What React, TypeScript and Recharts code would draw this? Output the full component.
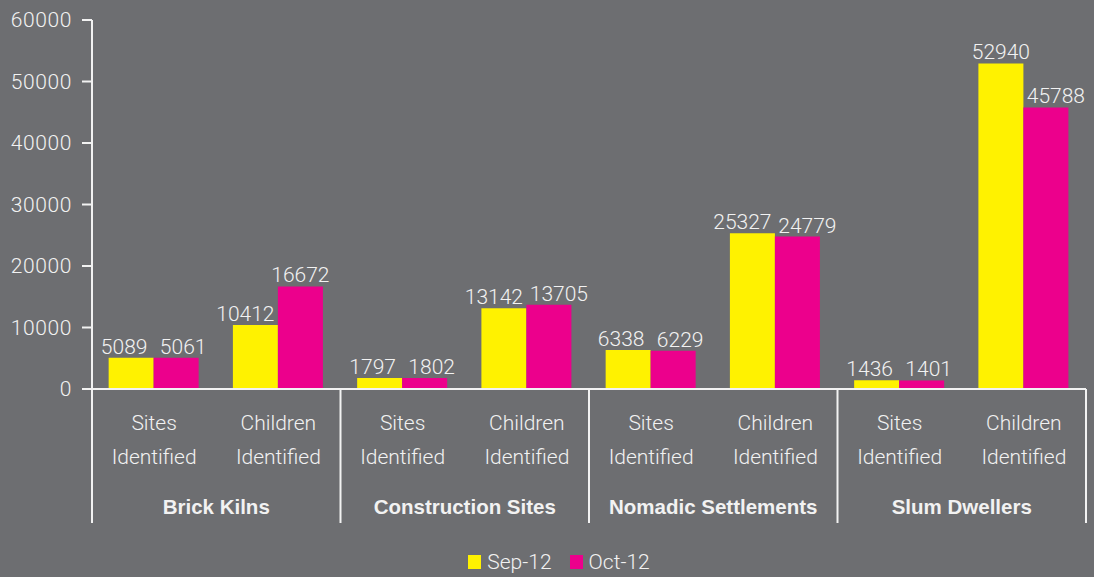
import React from "react";
import { BarChart, Bar, XAxis, YAxis, Legend, LabelList } from "recharts";

const groups = ["Brick Kilns", "Construction Sites", "Nomadic Settlements", "Slum Dwellers"];
const subLabels = [["Sites", "Identified"], ["Children", "Identified"]];
const sep12 = [5089, 10412, 1797, 13142, 6338, 25327, 1436, 52940];
const oct12 = [5061, 16672, 1802, 13705, 6229, 24779, 1401, 45788];
const yTicks = [0, 10000, 20000, 30000, 40000, 50000, 60000];
const seriesNames = ["Sep-12", "Oct-12"];

const data = sep12.map((v, i) => ({
  key: `${groups[Math.floor(i / 2)]}|${i % 2}`,
  group: groups[Math.floor(i / 2)],
  sub: i % 2,
  sep: v,
  oct: oct12[i],
}));

const W = 1094;
const H = 577;
const BG = "#6d6e71";
const YELLOW = "#fff200";
const MAGENTA = "#ec008c";
const TXT = "#f2f2f2";
const FONT = "Roboto, 'Liberation Sans', sans-serif";
const BOLD_FONT = "'Liberation Sans', Arial, sans-serif";
const FS = 21;
const PLOT_LEFT = 92;
const PLOT_RIGHT = 1086;
const AXIS_Y = 389;
const HALF_BAND = (PLOT_RIGHT - PLOT_LEFT) / 16;

const XTick = (props: any) => {
  const { x, index } = props;
  const d = data[index] || data[0];
  const lines = subLabels[d.sub];
  const els: any[] = [];
  els.push(
    <text key="l1" x={x} y={AXIS_Y + 41} textAnchor="middle" fill={TXT} fontSize={FS} fontWeight={300} fontFamily={FONT}>
      {lines[0]}
    </text>
  );
  els.push(
    <text key="l2" x={x} y={AXIS_Y + 75} textAnchor="middle" fill={TXT} fontSize={FS} fontWeight={300} fontFamily={FONT}>
      {lines[1]}
    </text>
  );
  if (d.sub === 0) {
    els.push(
      <line key="dv" x1={x - HALF_BAND} x2={x - HALF_BAND} y1={AXIS_Y} y2={AXIS_Y + 134} stroke={TXT} strokeWidth={2} />
    );
    els.push(
      <text key="g" x={x + HALF_BAND} y={AXIS_Y + 125} textAnchor="middle" fill={TXT} fontSize={20.5} fontWeight={700} fontFamily={BOLD_FONT}>
        {d.group}
      </text>
    );
  }
  if (index === data.length - 1) {
    els.push(
      <line key="dr" x1={x + HALF_BAND} x2={x + HALF_BAND} y1={AXIS_Y} y2={AXIS_Y + 134} stroke={TXT} strokeWidth={2} />
    );
  }
  return <g>{els}</g>;
};

// Value label: pairs whose labels would collide are spread apart (as in the original)
const makeLabel = (which: "sep" | "oct") => (props: any) => {
  const { x, y, width, value, index } = props;
  const d = data[index];
  if (!d) return null;
  const mine = which === "sep" ? d.sep : d.oct;
  const other = which === "sep" ? d.oct : d.sep;
  const s = String(value).length * 3 - 5;
  let shift = 0;
  if (mine - other > 5000) shift = 0;
  else shift = which === "sep" ? -s : s;
  return (
    <text x={x + width / 2 + shift} y={y - 4} textAnchor="middle" fill={TXT} fontSize={FS} fontWeight={300} fontFamily={FONT}>
      {value}
    </text>
  );
};

const LegendContent = () => (
  <div style={{ display: "flex", justifyContent: "center", alignItems: "center", height: 30, fontFamily: FONT, fontWeight: 300, fontSize: FS, color: TXT, paddingLeft: 32 }}>
    <div style={{ display: "flex", alignItems: "center", marginRight: 18 }}>
      <span style={{ display: "inline-block", width: 13, height: 14, background: YELLOW, marginRight: 6 }} />
      <span>{seriesNames[0]}</span>
    </div>
    <div style={{ display: "flex", alignItems: "center" }}>
      <span style={{ display: "inline-block", width: 13, height: 14, background: MAGENTA, marginRight: 6 }} />
      <span>{seriesNames[1]}</span>
    </div>
  </div>
);

export default function App() {
  return (
    <div style={{ position: "absolute", left: 0, top: 0, width: W, height: H, background: BG }}>
      <BarChart
        width={W}
        height={H}
        data={data}
        margin={{ top: 20, right: W - PLOT_RIGHT, left: 0, bottom: 0 }}
        barCategoryGap="13.4%"
        barGap={0}
      >
        <YAxis
          width={PLOT_LEFT}
          domain={[0, 60000]}
          ticks={yTicks}
          interval={0}
          axisLine={{ stroke: TXT, strokeWidth: 2 }}
          tickLine={{ stroke: TXT, strokeWidth: 2 }}
          tickSize={10}
          tickMargin={10}
          tick={{ fill: TXT, fontSize: FS, fontWeight: 300, fontFamily: FONT, letterSpacing: 0.6 }}
        />
        <XAxis
          dataKey="key"
          height={158}
          interval={0}
          axisLine={{ stroke: TXT, strokeWidth: 2 }}
          tickLine={false}
          tick={<XTick />}
        />
        <Legend verticalAlign="bottom" height={30} content={<LegendContent />} />
        <Bar dataKey="sep" name={seriesNames[0]} fill={YELLOW} isAnimationActive={false}>
          <LabelList dataKey="sep" content={makeLabel("sep")} />
        </Bar>
        <Bar dataKey="oct" name={seriesNames[1]} fill={MAGENTA} isAnimationActive={false}>
          <LabelList dataKey="oct" content={makeLabel("oct")} />
        </Bar>
      </BarChart>
    </div>
  );
}
